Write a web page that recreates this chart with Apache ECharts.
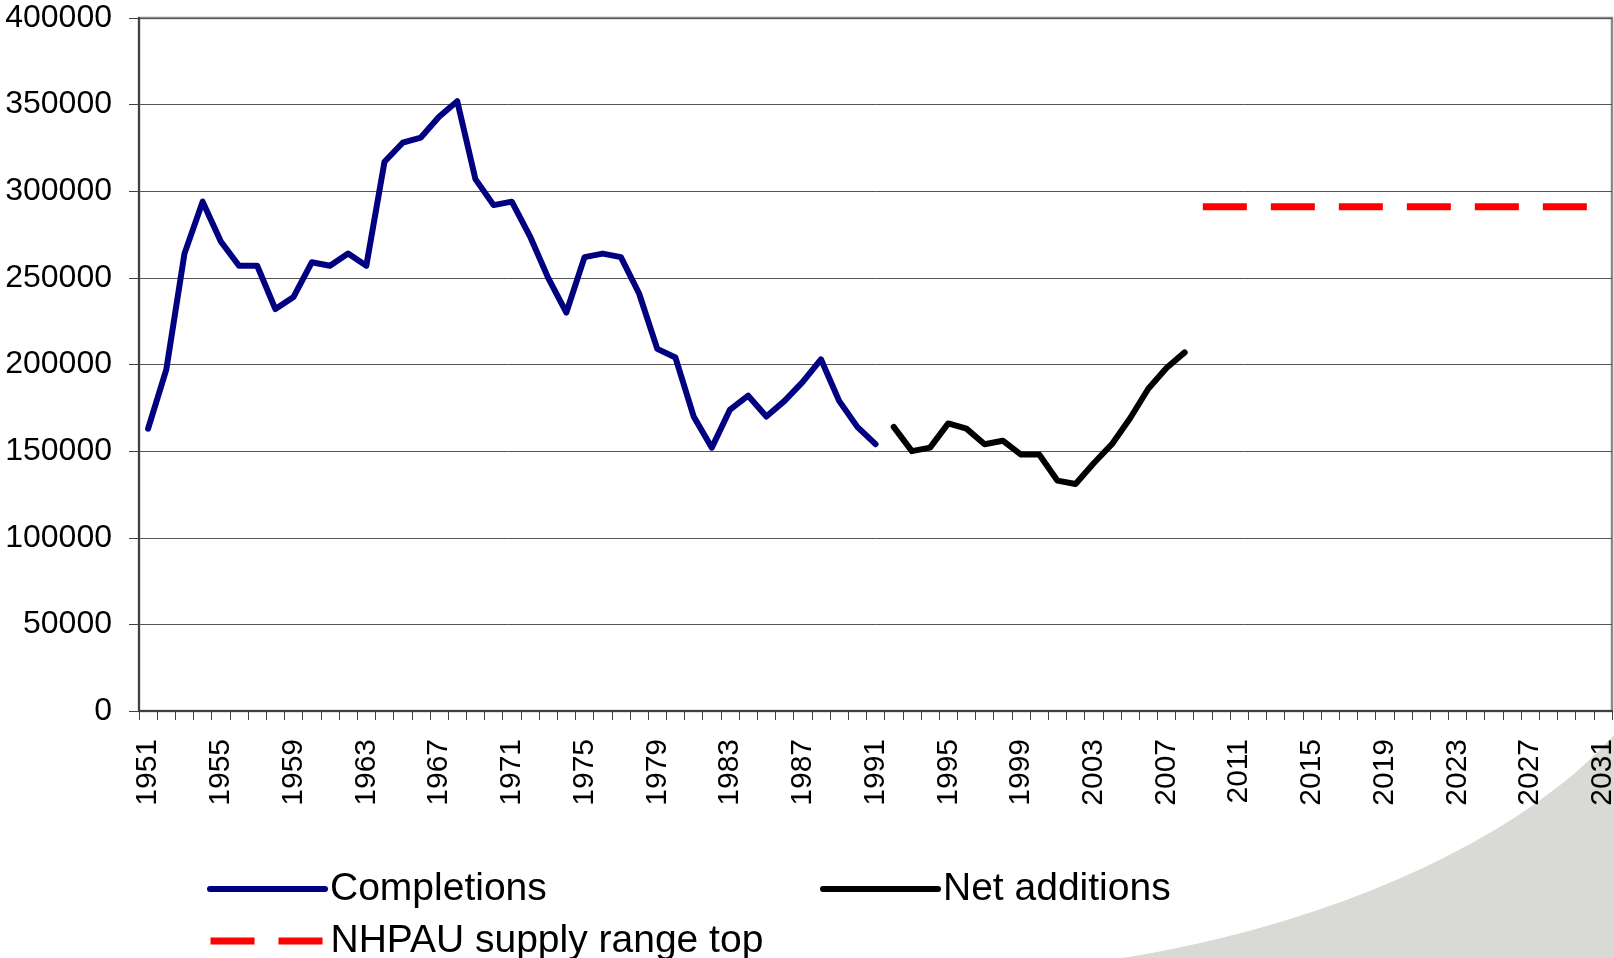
<!DOCTYPE html>
<html>
<head>
<meta charset="utf-8">
<title>Completions and net additions</title>
<script src="https://cdn.jsdelivr.net/npm/echarts@6/dist/echarts.min.js"></script>
<style>
  html, body { margin: 0; padding: 0; background: #fff; }
  #chart { width: 1614px; height: 958px; }
</style>
</head>
<body>
<div id="chart"></div>
<script>
// category axis: one slot per year
const years = []
for (let y = 1951; y <= 2031; y++) years.push(String(y))

// Completions, 1951 - 1991
const completionsStart = 1951
const completions = [
  163000, 197000, 264000, 294000, 271000, 257000, 257000, 232000, 239000, 259000,
  257000, 264000, 257000, 317000, 328000, 331000, 343000, 352000, 307000, 292000,
  294000, 274000, 250000, 230000, 262000, 264000, 262000, 241000, 209000, 204000,
  170000, 152000, 174000, 182000, 170000, 179000, 190000, 203000, 179000, 164000,
  154000
]

// Net additions, 1992 - 2008
const netStart = 1992
const netAdditions = [
  164000, 150000, 152000, 166000, 163000, 154000, 156000, 148000, 148000, 133000,
  131000, 143000, 154000, 169000, 186000, 198000, 207000
]

// NHPAU supply range top, 2009 - 2031
const supplyStart = 2009
const supplyTop = [
  291000, 291000, 291000, 291000, 291000, 291000, 291000, 291000, 291000, 291000,
  291000, 291000, 291000, 291000, 291000, 291000, 291000, 291000, 291000, 291000,
  291000, 291000, 291000
]

const yMin = 0
const yMax = 400000
const yStep = 50000

const font = "'Liberation Sans', Arial, sans-serif"

// spread a run of values onto the full year axis
const place = (start, values) => years.map((y) => {
  const i = Number(y) - start
  return i >= 0 && i < values.length ? values[i] : null
})

// decorative grey swoosh in the bottom right corner (a cubic curve, closed to the corner)
const swoosh = () => {
  const p0 = [1122, 958], p1 = [1330, 925], p2 = [1520, 840], p3 = [1614, 735]
  const pts = []
  for (let k = 0; k <= 40; k++) {
    const t = k / 40, u = 1 - t
    pts.push([
      u * u * u * p0[0] + 3 * u * u * t * p1[0] + 3 * u * t * t * p2[0] + t * t * t * p3[0],
      u * u * u * p0[1] + 3 * u * u * t * p1[1] + 3 * u * t * t * p2[1] + t * t * t * p3[1]
    ])
  }
  pts.push([1614, 958])
  return pts
}

const chart = echarts.init(document.getElementById('chart'))

const legendBase = {
  orient: 'horizontal',
  padding: 0,
  itemWidth: 115,
  itemHeight: 14,
  itemStyle: { opacity: 0 },
  textStyle: {
    color: '#000',
    fontSize: 39,
    fontFamily: font,
    lineHeight: 40,
    padding: [0, 0, 18, 0]
  }
}

const option = {
  backgroundColor: '#fff',
  animation: false,
  graphic: [
    {
      type: 'polygon',
      silent: true,
      z: -10,
      shape: { points: swoosh() },
      style: { fill: '#d9dad5' }
    }
  ],
  grid: {
    left: 139,
    right: 2,
    top: 18,
    bottom: 247,
    show: true,
    borderColor: '#8a8a8a',
    borderWidth: 2.5,
    backgroundColor: 'transparent',
    outerBoundsMode: 'none'
  },
  legend: [
    Object.assign({}, legendBase, {
      left: 207, top: 860, data: ['Completions'],
      lineStyle: { width: 6, opacity: 1 }
    }),
    Object.assign({}, legendBase, {
      left: 820, top: 860, data: ['Net additions'],
      lineStyle: { width: 6, opacity: 1 }
    }),
    Object.assign({}, legendBase, {
      left: 207, top: 912, data: ['NHPAU supply range top'],
      lineStyle: { width: 7, opacity: 1 }
    })
  ],
  xAxis: {
    type: 'category',
    data: years,
    boundaryGap: true,
    axisLine: { show: true, lineStyle: { color: '#404040', width: 2 } },
    axisTick: {
      show: true,
      interval: 0,
      length: 9,
      lineStyle: { color: '#404040', width: 1 }
    },
    axisLabel: {
      interval: 3,
      rotate: 90,
      margin: 28,
      color: '#000',
      fontSize: 30,
      fontFamily: font
    },
    splitLine: { show: false }
  },
  yAxis: {
    type: 'value',
    min: yMin,
    max: yMax,
    interval: yStep,
    axisLine: { show: true, lineStyle: { color: '#404040', width: 2 } },
    axisTick: { show: true, length: 10, lineStyle: { color: '#404040', width: 1 } },
    axisLabel: {
      margin: 27,
      color: '#000',
      fontSize: 32,
      fontFamily: font,
      formatter: (v) => String(v)
    },
    splitLine: { show: true, lineStyle: { color: '#555', width: 1 } }
  },
  series: [
    {
      name: 'Completions',
      type: 'line',
      data: place(completionsStart, completions),
      symbol: 'none',
      connectNulls: false,
      lineStyle: { color: '#000080', width: 6, cap: 'round', join: 'round' },
      itemStyle: { color: '#000080' },
      z: 3
    },
    {
      name: 'Net additions',
      type: 'line',
      data: place(netStart, netAdditions),
      symbol: 'none',
      connectNulls: false,
      lineStyle: { color: '#000', width: 6, cap: 'round', join: 'round' },
      itemStyle: { color: '#000' },
      z: 3
    },
    {
      name: 'NHPAU supply range top',
      type: 'line',
      data: place(supplyStart, supplyTop),
      symbol: 'none',
      lineStyle: { color: '#ff0000', width: 7, type: [44, 24], cap: 'butt' },
      itemStyle: { color: '#ff0000' },
      z: 3
    }
  ]
}

chart.setOption(option)
</script>
</body>
</html>
